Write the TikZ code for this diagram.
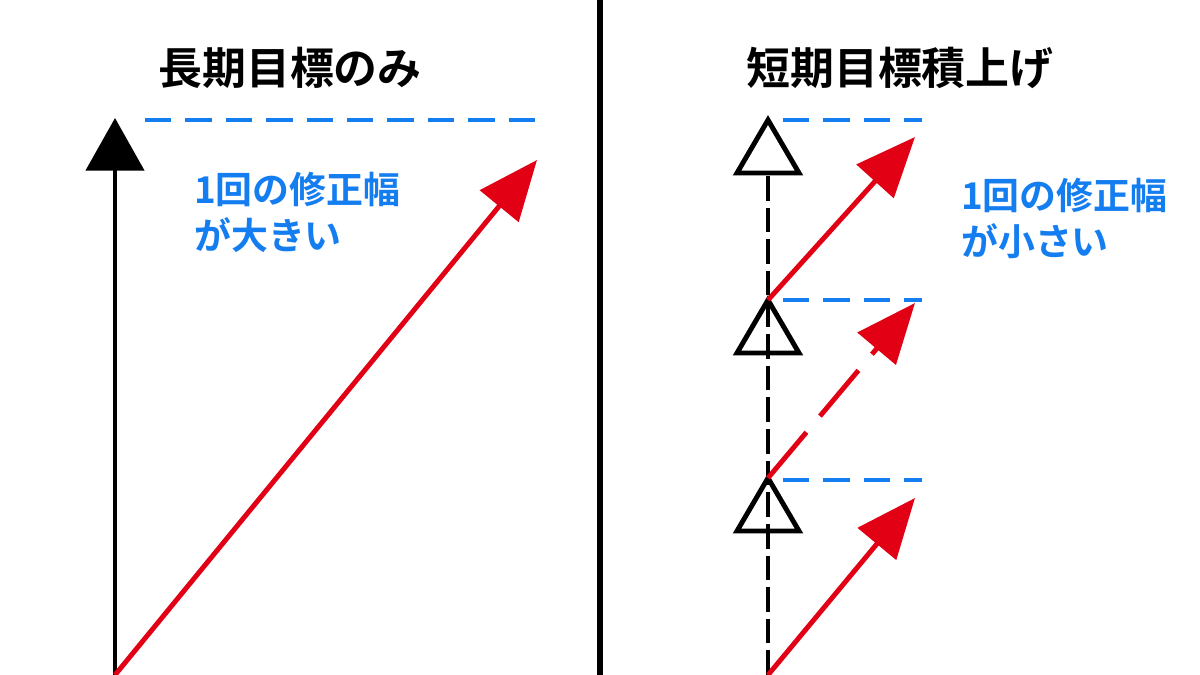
\documentclass[tikz,border=0pt]{standalone}
\usepackage{fontspec}
\newfontfamily\jp{Noto Sans CJK JP}[BoldFont={* Bold}]
\usetikzlibrary{arrows.meta}
\definecolor{myblue}{RGB}{20,125,240}
\definecolor{myred}{RGB}{225,0,20}
\begin{document}
\begin{tikzpicture}[x=0.02cm,y=-0.02cm,
  ttl/.style={font=\jp\bfseries\fontsize{25}{30}\selectfont},
  note/.style={font=\jp\bfseries\fontsize{21}{26}\selectfont,text=myblue,align=left,anchor=north west},
  bdash/.style={myblue,line width=2.8pt,dash pattern=on 15pt off 8pt},
  rarr/.style={myred,line width=2.8pt,-{Triangle[length=34pt,width=28pt]}},
  otri/.style={draw=black,fill=white,line width=2.8pt,line join=miter}]
\useasboundingbox (0,0) rectangle (1200,675);
\draw[line width=3pt] (600,0) -- (600,675);
\node[ttl] (t1) at (290,68) {長期目標のみ};
\node[ttl] (t2) at (900,68) {短期目標積上げ};
% left
\coordinate (l0) at (115,675);
\coordinate (l1) at (115,118);
\draw[line width=2.8pt,-{Triangle[length=30pt,width=33pt]}] (l0) -- (l1);
\coordinate (bl1) at (145,120); \coordinate (bl2) at (545,120);
\draw[bdash] (bl1) -- (bl2);
\node[note] (n1) at (188,166) {1回の修正幅\\が大きい};
\coordinate (r1) at (537,160);
\draw[rarr] (l0) -- (r1);
% right
\coordinate (v0) at (768,675); \coordinate (v1) at (768,172);
\foreach \y/\n in {120/a,300/b,478/c}{
  \draw[otri] (768,\y) -- (799,\y+53) -- (737,\y+53) -- cycle;
  \coordinate (p\n) at (768,\y);
}
\draw[line width=2.8pt,dash pattern=on 14pt off 4pt] (v0) -- (v1);
\foreach \y in {120,300,480}{ \draw[bdash] (783,\y) -- (922,\y); }
\coordinate (e1) at (915,137); \coordinate (e2) at (915,303); \coordinate (e3) at (915,498);
\draw[rarr] (pb) -- (e1);
\draw[rarr,dash pattern=on 34pt off 12pt] (pc) -- (e2);
\draw[rarr] (v0) -- (e3);
\node[note] (n2) at (955,172) {1回の修正幅\\が小さい};
\end{tikzpicture}
\end{document}
